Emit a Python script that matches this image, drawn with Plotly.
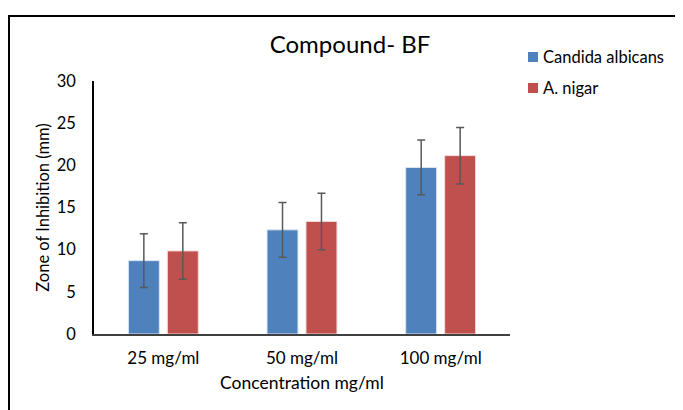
import plotly.graph_objects as go

categories = ["25 mg/ml", "50 mg/ml", "100 mg/ml"]
series_names = ["Candida albicans", "A. nigar"]
candida = [8.7, 12.35, 19.75]
candida_err = [3.2, 3.25, 3.25]
nigar = [9.85, 13.35, 21.15]
nigar_err = [3.35, 3.35, 3.35]
colors = ["#4F81BD", "#C0504D"]
outline = ["#DCE6F2", "#F2DCDB"]

FONT = "Lato"
# page body has an 8px margin; the figure is sized/placed to compensate
W, H = 675, 402
L, R, T, B = 86, 173, 73, 76
PW, PH = W - L - R, H - T - B


def px(fx):
    return (fx - L) / PW


def py(fy):
    return (H - B - fy) / PH


fig = go.Figure()
for name, vals, errs, col, oc in zip(series_names, [candida, nigar], [candida_err, nigar_err], colors, outline):
    fig.add_trace(go.Bar(
        name=name, x=categories, y=vals,
        marker=dict(color=col, line=dict(color=oc, width=1)),
        error_y=dict(type="data", array=errs, color="#595959", thickness=1.5, width=4),
        showlegend=False,
    ))

fig.update_layout(
    width=W, height=H,
    margin=dict(l=L, r=R, t=T, b=B),
    paper_bgcolor="white", plot_bgcolor="white",
    font=dict(family=FONT, color="#000000", size=17),
    title=dict(text="Compound- BF", x=342 / W, xanchor="center",
               y=1 - 37 / H, yanchor="middle",
               font=dict(size=24, family=FONT, color="#000000")),
    barmode="group", bargap=0.438, bargroupgap=0.205,
    showlegend=False,
)
fig.update_yaxes(range=[0, 30], dtick=5, showgrid=False, showline=True,
                 linecolor="#000000", linewidth=1.5, ticks="", zeroline=False,
                 ticklabelstandoff=13,
                 tickfont=dict(size=16.5, family=FONT),
                 title=dict(text="Zone of Inhibition (mm)", font=dict(size=16.5, family=FONT), standoff=3))
fig.update_xaxes(showline=True, linecolor="#404040", linewidth=1.5, ticks="",
                 ticklabelstandoff=8,
                 tickfont=dict(size=17, family=FONT),
                 title=dict(text="Concentration mg/ml", font=dict(size=17.5, family=FONT), standoff=10))

# legend (drawn as swatches + labels to match the reference's compact spacing)
legend_rows = [49, 80]
for name, col, cy in zip(series_names, colors, legend_rows):
    fig.add_shape(type="rect", xref="paper", yref="paper",
                  x0=px(520), x1=px(530), y0=py(cy + 5), y1=py(cy - 5),
                  fillcolor=col, line=dict(color=col, width=0))
    fig.add_annotation(xref="paper", yref="paper", x=px(533), y=py(cy),
                       xanchor="left", yanchor="middle", showarrow=False,
                       text=name, font=dict(size=16.5, family=FONT, color="#000000"))

# outer border of chart area (extends beyond visible window on right and bottom)
fig.add_shape(type="rect", xref="paper", yref="paper",
              x0=px(1), x1=px(700), y0=py(430), y1=py(8),
              line=dict(color="black", width=2), layer="below")

fig.write_html("out.html")
